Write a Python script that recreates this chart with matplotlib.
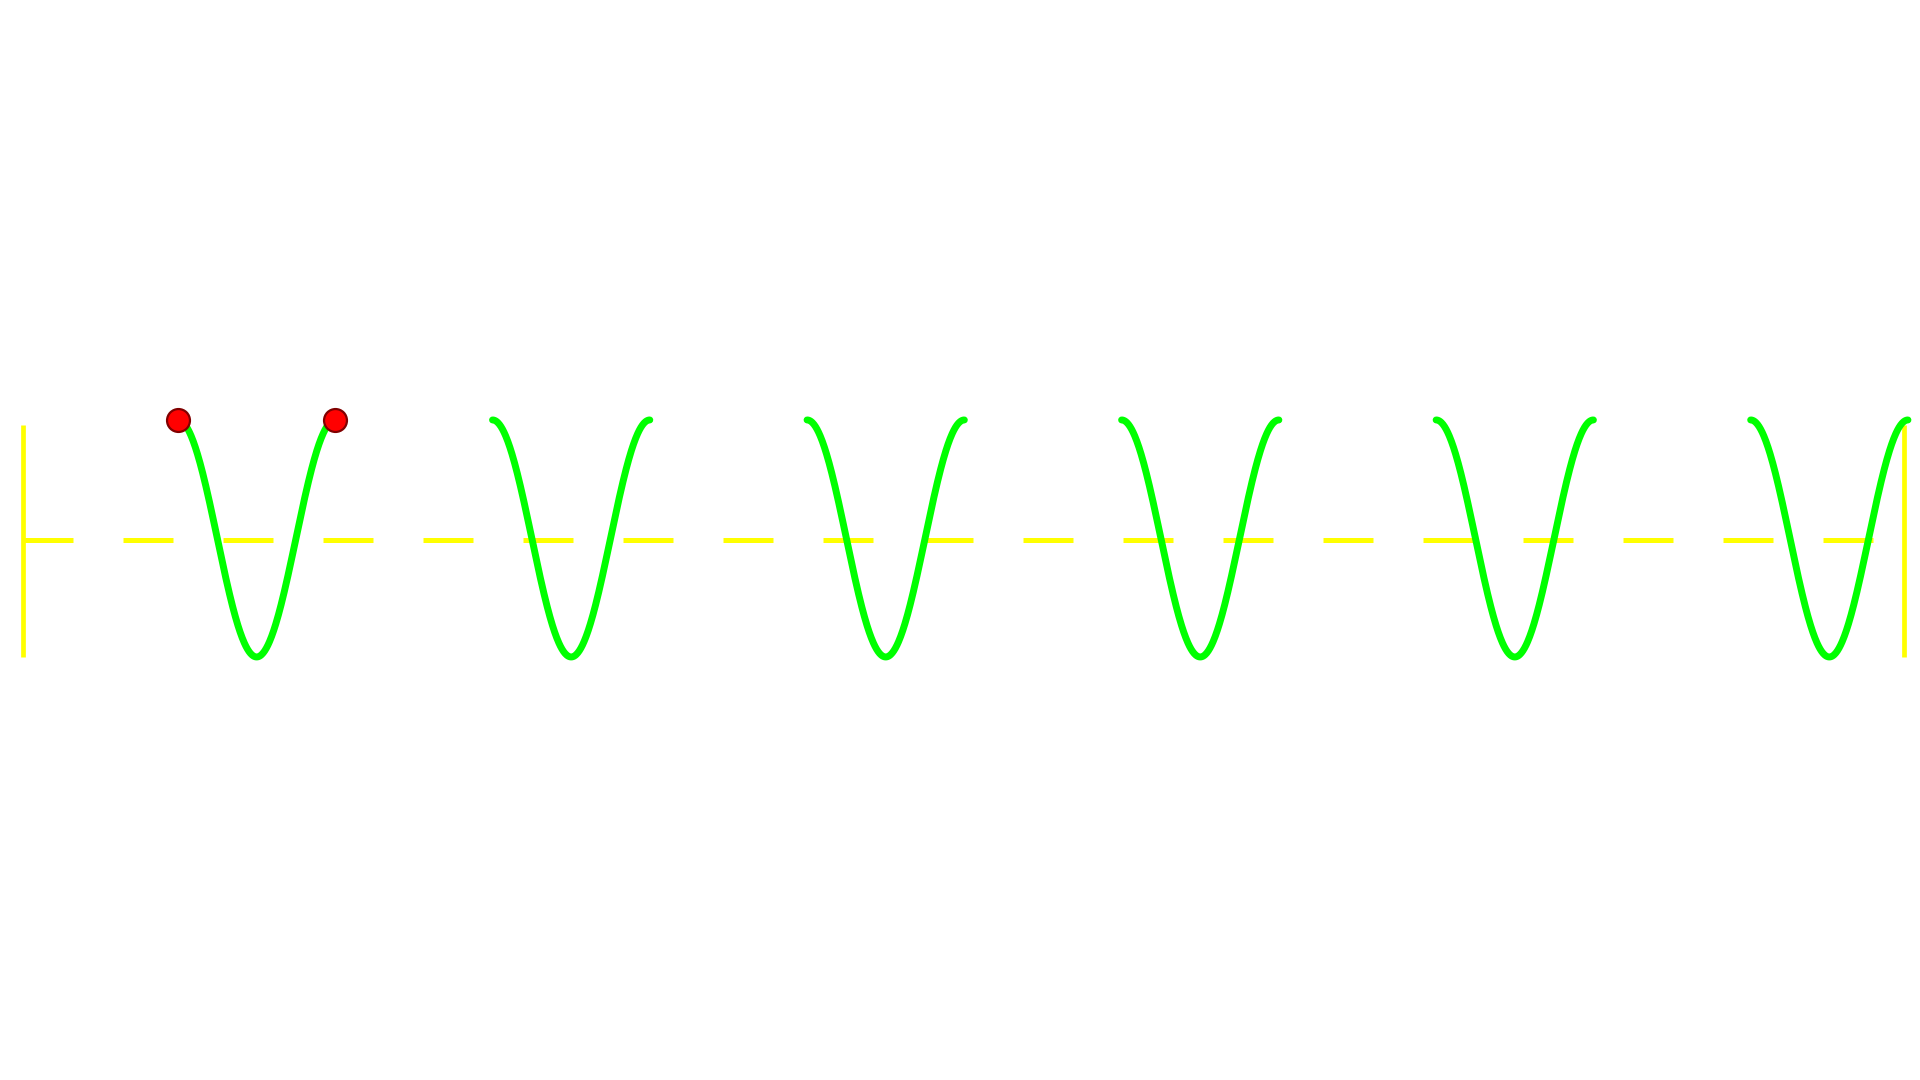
import matplotlib
matplotlib.use("Agg")
import matplotlib.pyplot as plt
import numpy as np

# green curve pieces: y = cos(2x) over each interval (in units of pi)
seg_starts = [1, 3, 5, 7, 9, 11]
seg_ends = [2, 4, 6, 8, 10, 12]

# red points at the ends of the first piece
dot_x = [np.pi, 2 * np.pi]
dot_y = [1, 1]

# yellow dashed baseline
base_x = [0.05, 37.62]
base_y = [-0.013, -0.013]

# yellow vertical bars
bar_x = [0.05, 37.62]
bar_bottom = [-1.0, -1.0]
bar_top = [0.96, 0.96]

fig = plt.figure(figsize=(19.2, 10.8), dpi=100)
ax = fig.add_axes([0, 0, 1, 1])
ax.axis("off")

ax.plot(base_x, base_y, color="#ffff00", lw=3.6, dashes=(10, 10),
        solid_capstyle="butt", zorder=1)
for x, b, t in zip(bar_x, bar_bottom, bar_top):
    ax.plot([x, x], [b, t], color="#ffff00", lw=3.4, solid_capstyle="butt", zorder=1)

for s, e in zip(seg_starts, seg_ends):
    xs = np.linspace(s * np.pi, e * np.pi, 300)
    ax.plot(xs, np.cos(2 * xs), color="#00ff00", lw=5,
            solid_capstyle="round", zorder=2)

ax.plot(dot_x, dot_y, "o", ms=16.5, mfc="#ff0000", mec="#800000", mew=1.6,
        zorder=3)

ax.set_xlim(-0.414, 37.94)
ax.set_ylim(-4.57, 4.544)

fig.savefig("out.png", dpi=100)
